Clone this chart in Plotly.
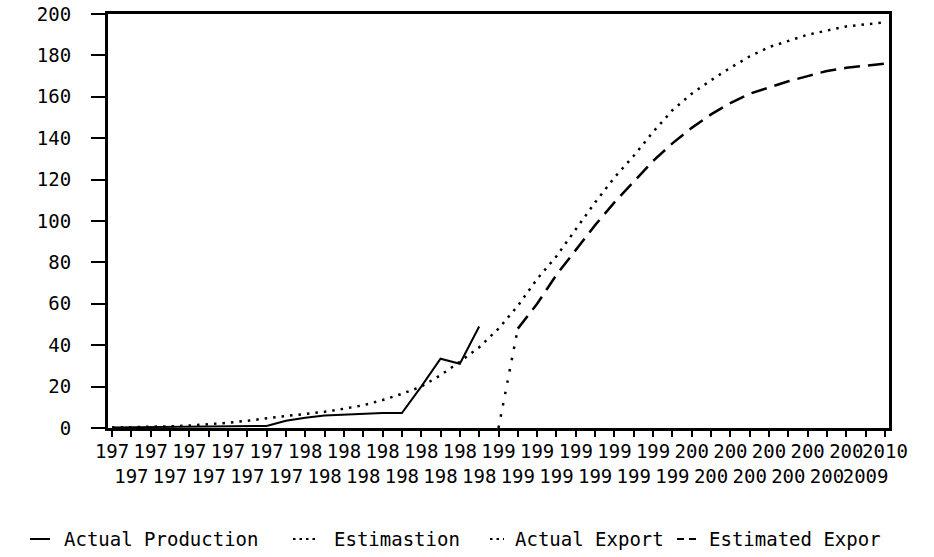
import plotly.graph_objects as go

# ---------------- data ----------------
years = list(range(1970, 2011))

production_years = list(range(1970, 1990))
actual_production = [0.3, 0.4, 0.5, 0.6, 0.7, 0.8, 0.9, 0.9, 1.0, 3.5,
                     5.0, 6.0, 6.5, 7.0, 7.2, 7.2, 20.0, 33.5, 31.0, 49.0]

estimation_years = list(range(1970, 2011))
estimation = [0.2, 0.3, 0.5, 0.8, 1.2, 1.8, 2.5, 3.5, 4.8, 5.8,
              6.8, 7.8, 9.3, 11.0, 13.5, 16.5, 20.0, 25.5, 32.0, 39.0,
              48.0, 59.0, 72.0, 83.0, 96.0, 109.0, 121.0, 131.5, 143.0, 153.5,
              161.5, 168.0, 174.0, 179.5, 184.0, 187.0, 190.0, 192.0, 194.0, 195.0,
              196.0]

export_years = [1990, 1991]
actual_export = [0.0, 48.0]

est_export_years = list(range(1991, 2011))
estimated_export = [48.0, 60.0, 74.0, 86.0, 98.0, 109.0, 119.0, 129.0, 137.5, 145.0,
                    151.5, 157.0, 161.5, 164.5, 167.5, 170.0, 172.5, 174.0, 175.0, 176.0]

# tick labels as they appear (overprinted, so only 3 digits remain visible)
tick_labels = ["197", "197", "197", "197", "197", "197", "197", "197", "197", "197",
               "198", "198", "198", "198", "198", "198", "198", "198", "198", "198",
               "199", "199", "199", "199", "199", "199", "199", "199", "199", "199",
               "200", "200", "200", "200", "200", "200", "200", "200", "200", "2009",
               "2010"]

y_ticks = [0, 20, 40, 60, 80, 100, 120, 140, 160, 180, 200]

legend_names = ["Actual Production", "Estimastion", "Actual Export", "Estimated Expor"]

# ---------------- figure ----------------
FONT = "DejaVu Sans Mono"
W, H = 934, 557
ML, MT = 108, 14
MR = W - 889
MB = H - 428
PW = W - ML - MR
PH = H - MT - MB

fig = go.Figure()
fig.add_trace(go.Scatter(x=production_years, y=actual_production, mode="lines",
                         name=legend_names[0],
                         line=dict(color="black", width=2)))
fig.add_trace(go.Scatter(x=estimation_years, y=estimation, mode="lines",
                         name=legend_names[1],
                         line=dict(color="black", width=2.5, dash="2.5px,6px")))
fig.add_trace(go.Scatter(x=export_years, y=actual_export, mode="lines",
                         name=legend_names[2],
                         line=dict(color="black", width=2.5, dash="2.5px,9px")))
fig.add_trace(go.Scatter(x=est_export_years, y=estimated_export, mode="lines",
                         name=legend_names[3],
                         line=dict(color="black", width=2.5, dash="16px,8px")))

ticktext = [lab if (yr % 2 == 0) else "<br>" + lab for yr, lab in zip(years, tick_labels)]

fig.update_xaxes(range=[1969.79, 2010.21], tickmode="array", tickvals=years,
                 ticktext=ticktext, tickangle=0, ticks="outside", ticklen=6,
                 tickwidth=2, tickcolor="black", showgrid=False, zeroline=False,
                 showline=True, linewidth=3, linecolor="black", mirror=True,
                 tickfont=dict(family=FONT, size=19, color="black"),
                 ticklabelstandoff=-2, automargin=False, ticklabeloverflow="allow")
fig.update_yaxes(range=[0, 200], tickmode="array", tickvals=y_ticks,
                 ticktext=[str(v) for v in y_ticks], ticks="outside", ticklen=14,
                 tickwidth=2, tickcolor="black", showgrid=False, zeroline=False,
                 showline=True, linewidth=3, linecolor="black", mirror=True,
                 tickfont=dict(family=FONT, size=19, color="black"),
                 ticklabelstandoff=16, automargin=False, ticklabeloverflow="allow")

# legend drawn as text + small line samples below the axis labels
def px_x(p):
    return (p - ML) / PW

def px_y(p):
    return 1 - (p - MT) / PH

legend_text_x = [62, 332, 513, 707]
legend_mark_x = [(30, 50), (293, 318), (490, 504), (677, 698)]
legend_dash = ["solid", "2.5px,4px", "2.5px,4px", "7px,5px"]
legend_y = 539

for name, tx, (a, b), dsh in zip(legend_names, legend_text_x, legend_mark_x, legend_dash):
    fig.add_annotation(x=px_x(tx), y=px_y(legend_y), xref="paper", yref="paper",
                       text=name, showarrow=False, xanchor="left", yanchor="middle",
                       font=dict(family=FONT, size=19, color="black"))
    fig.add_shape(type="line", xref="paper", yref="paper",
                  x0=px_x(a), x1=px_x(b), y0=px_y(legend_y), y1=px_y(legend_y),
                  line=dict(color="black", width=2, dash=dsh))

fig.update_layout(width=W, height=H, margin=dict(l=ML, r=MR, t=MT, b=MB, autoexpand=False),
                  paper_bgcolor="white", plot_bgcolor="white", showlegend=False,
                  font=dict(family=FONT, color="black"))

fig.write_html("out.html", config={"displayModeBar": False},
               post_script="document.body.style.margin='0';document.body.style.overflow='hidden';")
